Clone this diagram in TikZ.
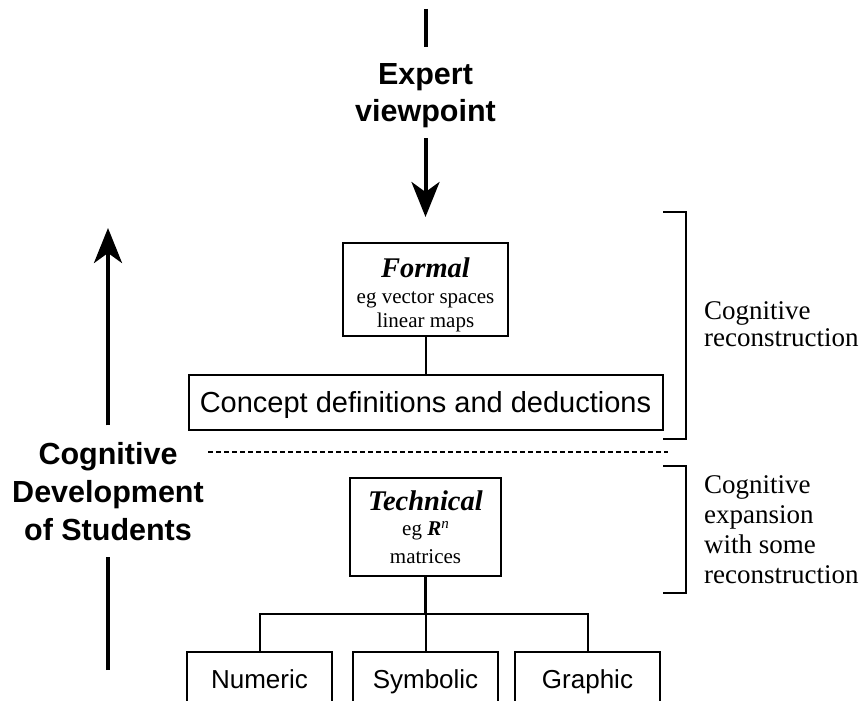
\documentclass[tikz,border=0pt]{standalone}
\usepackage{fontspec}
\setmainfont{Liberation Serif}
\newfontfamily\headsans{Liberation Sans}
\newfontfamily\boxsans{Liberation Sans}
\usepackage{tikz}
\usetikzlibrary{arrows.meta,positioning}

\begin{document}
\begin{tikzpicture}[
    x=1pt, y=-1pt,
    frame/.style={rectangle, draw, line width=2pt, inner sep=0pt, align=center},
    topicbox/.style={frame, font=\fontsize{21}{24}\selectfont},
    conceptbox/.style={frame, font=\boxsans\fontsize{29}{32}\selectfont, minimum height=55pt, text height=20.8pt, text depth=0pt},
    formbox/.style={frame, font=\boxsans\fontsize{26}{30}\selectfont, minimum width=145pt, minimum height=53.4pt, text height=18.6pt, text depth=0pt},
    heading/.style={font=\headsans\bfseries\fontsize{30.5}{37}\selectfont, align=center, inner xsep=0pt, inner ysep=16.5pt, text depth=0pt},
    note/.style={font=\fontsize{27}{30}\selectfont, align=left, anchor=west, inner sep=0pt},
    link/.style={line width=2pt},
    shaft/.style={line width=4pt},
    bigarrow/.style={shaft, -{Stealth[length=35pt, width=28pt, inset=10pt]}},
    bracket/.style={line width=2pt}
]
  \useasboundingbox (0,0) rectangle (862,701);

  % Expert side, top
  \node[heading] (expert) at (425.5,92.6) {Expert\\viewpoint};
  \coordinate (viewtop) at (425.5,9);
  \coordinate (viewtip) at (425.5,217);

  % Students side, left
  \node[heading, font=\headsans\bfseries\fontsize{30.5}{38}\selectfont] (students) at (108,491)
    {Cognitive\\Development\\of Students};
  \coordinate (devfoot) at (108,670);
  \coordinate (devtip) at (108,228);

  % Formal level
  \node[topicbox, minimum width=165pt, minimum height=93pt] (formal) at (425.5,289.5)
    {\rule{0pt}{29.5pt}{\fontsize{28.5}{30}\selectfont\bfseries\itshape Formal}\\[2pt]
     eg vector spaces\\ linear maps};
  \node[conceptbox, minimum width=474pt, below=37pt of formal] (concept) {Concept definitions and deductions};

  % Split between the levels
  \coordinate (splitL) at (208,452);
  \coordinate (splitR) at (668,452);

  % Technical level
  \node[topicbox, minimum width=151pt, minimum height=98pt] (technical) at (425.5,527)
    {{\fontsize{28.5}{30}\selectfont\bfseries\itshape Technical}\\[1pt]
     eg {\bfseries\itshape R}\raisebox{7pt}{\fontsize{15}{15}\selectfont\itshape n}\\[4pt] matrices};
  \coordinate (bus) at (425.5,614);

  % Bottom row
  \node[formbox] (symbolic) at (425.5,678.7) {Symbolic};
  \node[formbox, left=19pt of symbolic] (numeric) {Numeric};
  \node[formbox, right=15pt of symbolic] (graphic) {Graphic};

  % Brackets and notes
  \coordinate (brA1) at (663,212);
  \coordinate (brA2) at (663,439);
  \coordinate (brB1) at (663,466);
  \coordinate (brB2) at (663,593);
  \node[note, font=\fontsize{27}{27}\selectfont] (reconnote) at (704,324) {Cognitive\\reconstruction};
  \node[note] (expandnote) at (704,529.5) {Cognitive\\expansion\\with some\\reconstruction};

  % Connectors
  \draw[shaft] (viewtop) -- (expert.north);
  \draw[bigarrow] (expert.south) -- (viewtip);
  \draw[shaft] (devfoot) -- (students.south);
  \draw[bigarrow] (students.north) -- (devtip);
  \draw[link] (formal) -- (concept);
  \draw[link, dash pattern=on 5pt off 3pt] (splitL) -- (splitR);
  \draw[link, line width=3pt] (technical) -- (bus);
  \draw[link] (numeric.north) |- (bus) -| (graphic.north);
  \draw[link] (symbolic) -- (bus);
  \draw[bracket] (brA1) -- ++(23,0) |- (brA2);
  \draw[bracket] (brB1) -- ++(23,0) |- (brB2);
\end{tikzpicture}
\end{document}
